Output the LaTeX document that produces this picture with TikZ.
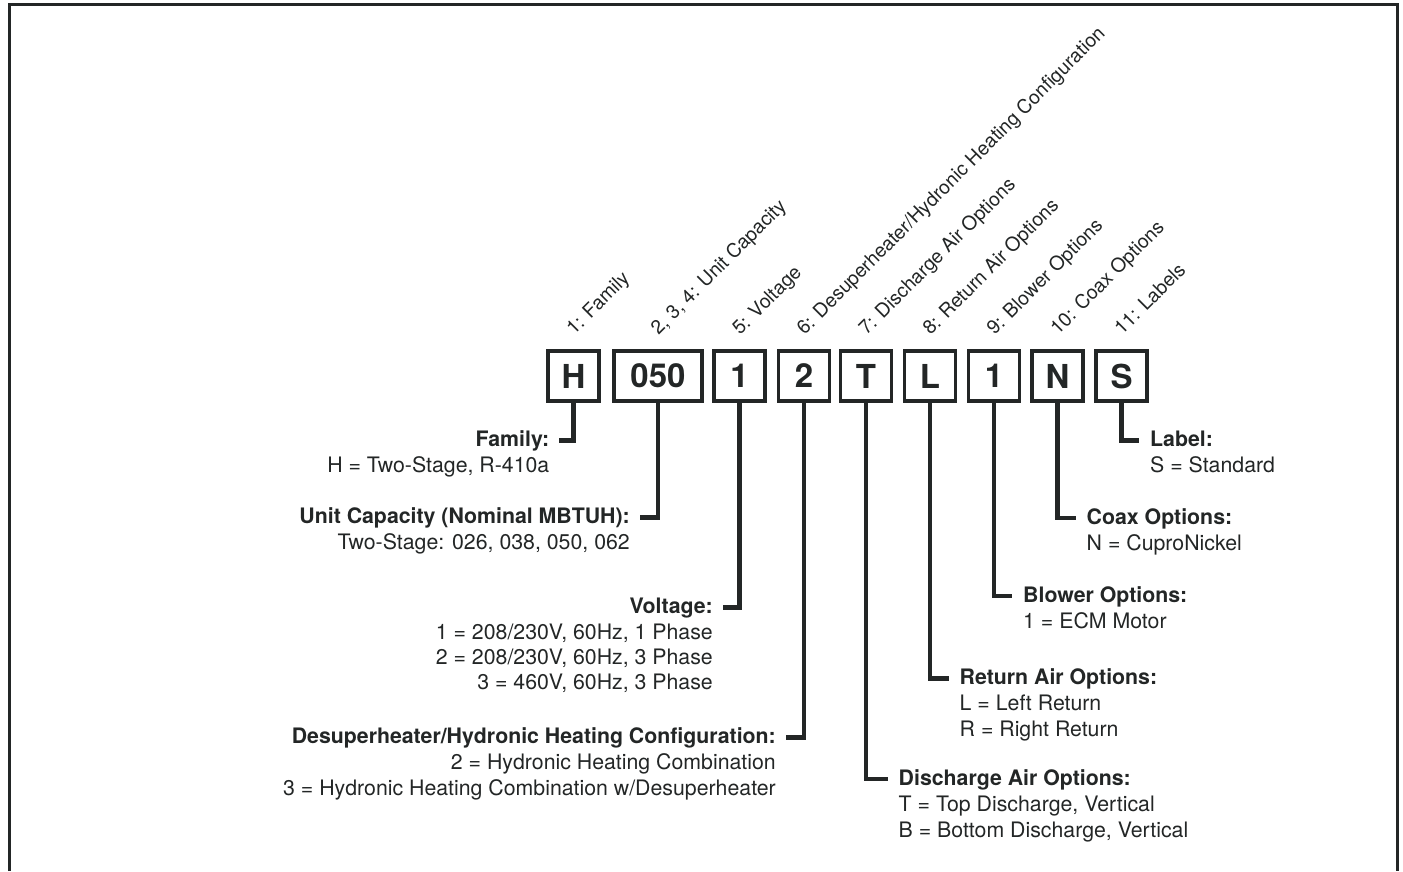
\documentclass[tikz,border=0pt]{standalone}
\usepackage{fontspec}
\setmainfont{TeX Gyre Heros}
\definecolor{ink}{RGB}{35,38,38}

\begin{document}
\begin{tikzpicture}[x=1pt,y=-1pt,
    digit/.style={draw=ink,line width=3.8pt,minimum width=51pt,minimum height=50pt,inner sep=0pt,text=ink,font=\fontsize{33}{33}\selectfont\bfseries},
    tag/.style={rotate=45,anchor=base west,inner sep=0pt,text=ink,font=\fontsize{19.4}{22}\selectfont},
    head/.style={inner sep=0pt,text height=15pt,text depth=3pt,text=ink,font=\fontsize{21.3}{25.5}\selectfont\bfseries},
    vals/.style={inner sep=0pt,text=ink,font=\fontsize{21.3}{25.5}\selectfont},
    lead/.style={draw=ink,line width=4.2pt,line join=miter}]

    \useasboundingbox (0,0) rectangle (1403,871);
    \draw[ink,line width=2.8pt] (9.5,871) -- (9.5,4.5) -- (1397.5,4.5) -- (1397.5,871);

    % model code boxes
    \node[digit] (bH) at (573.5,376) {H};
    \node[digit,minimum width=88pt] (bCap) at (658,376) {050};
    \node[digit] (bVolt) at (739.5,376) {1};
    \node[digit] (bDesup) at (804,376) {2};
    \node[digit] (bDis) at (866,376) {T};
    \node[digit] (bRet) at (930,376) {L};
    \node[digit] (bBlow) at (994,376) {1};
    \node[digit] (bCoax) at (1057.5,376) {N};
    \node[digit] (bLab) at (1121.5,376) {S};

    % position labels
    \node[tag] (tFam) at (574,336) {1: Family};
    \node[tag] (tCap) at (658.5,336) {2, 3, 4: Unit Capacity};
    \node[tag] (tVolt) at (740,336) {5: Voltage};
    \node[tag] (tDesup) at (804.5,336) {6: Desuperheater/Hydronic Heating Configuration};
    \node[tag] (tDis) at (866.5,336) {7: Discharge Air Options};
    \node[tag] (tRet) at (930.5,336) {8: Return Air Options};
    \node[tag] (tBlow) at (994.5,336) {9: Blower Options};
    \node[tag] (tCoax) at (1058,336) {10: Coax Options};
    \node[tag] (tLab) at (1122,336) {11: Labels};

    % left side
    \node[head,anchor=base east] (hFam) at (549.5,446.5) {Family:};
    \node[vals,anchor=base east] (vFam) at ([yshift=-26pt]hFam.base east) {H = Two-Stage, R-410a};
    \node[head,anchor=base east] (hCap) at (630,523.5) {Unit Capacity (Nominal MBTUH):};
    \node[vals,anchor=base east] (vCap) at ([yshift=-26pt]hCap.base east) {Two-Stage: 026, 038, 050, 062};
    \node[head,anchor=base east] (hVolt) at (713,613.5) {Voltage:};
    \node[vals,anchor=base east] (vVoltA) at ([yshift=-26pt]hVolt.base east) {1 = 208/230V, 60Hz, 1 Phase};
    \node[vals,anchor=base east] (vVoltB) at ([yshift=-25pt]vVoltA.base east) {2 = 208/230V, 60Hz, 3 Phase};
    \node[vals,anchor=base east] (vVoltC) at ([yshift=-25pt]vVoltB.base east) {3 = 460V, 60Hz, 3 Phase};
    \node[head,anchor=base east] (hDesup) at (776,743.5) {Desuperheater/Hydronic Heating Configuration:};
    \node[vals,anchor=base east] (vDesupA) at ([yshift=-26pt]hDesup.base east) {2 = Hydronic Heating Combination};
    \node[vals,anchor=base east] (vDesupB) at ([yshift=-25.5pt]vDesupA.base east) {3 = Hydronic Heating Combination w/Desuperheater};

    % right side
    \node[head,anchor=base west] (hDis) at (898.5,785) {Discharge Air Options:};
    \node[vals,anchor=base west] (vDisA) at ([yshift=-26.5pt]hDis.base west) {T = Top Discharge, Vertical};
    \node[vals,anchor=base west] (vDisB) at ([yshift=-26pt]vDisA.base west) {B = Bottom Discharge, Vertical};
    \node[head,anchor=base west] (hRet) at (959.5,684.5) {Return Air Options:};
    \node[vals,anchor=base west] (vRetA) at ([yshift=-26pt]hRet.base west) {L = Left Return};
    \node[vals,anchor=base west] (vRetB) at ([yshift=-26pt]vRetA.base west) {R = Right Return};
    \node[head,anchor=base west] (hBlow) at (1023,602) {Blower Options:};
    \node[vals,anchor=base west] (vBlow) at ([yshift=-26pt]hBlow.base west) {1 = ECM Motor};
    \node[head,anchor=base west] (hCoax) at (1086.5,524) {Coax Options:};
    \node[vals,anchor=base west] (vCoax) at ([yshift=-26pt]hCoax.base west) {N = CuproNickel};
    \node[head,anchor=base west] (hLab) at (1150,446.5) {Label:};
    \node[vals,anchor=base west] (vLab) at ([yshift=-26pt]hLab.base west) {S = Standard};

    % leaders
    \draw[lead] (bH.south) |- ([xshift=9.5pt]hFam.east);
    \draw[lead] (bCap.south) |- ([xshift=9.5pt]hCap.east);
    \draw[lead] (bVolt.south) |- ([xshift=9.5pt]hVolt.east);
    \draw[lead] (bDesup.south) |- ([xshift=9.5pt]hDesup.east);
    \draw[lead] (bDis.south) |- ([xshift=-11pt]hDis.west);
    \draw[lead] (bRet.south) |- ([xshift=-11pt]hRet.west);
    \draw[lead] (bBlow.south) |- ([xshift=-11pt]hBlow.west);
    \draw[lead] (bCoax.south) |- ([xshift=-11pt]hCoax.west);
    \draw[lead] (bLab.south) |- ([xshift=-11pt]hLab.west);

\end{tikzpicture}
\end{document}
